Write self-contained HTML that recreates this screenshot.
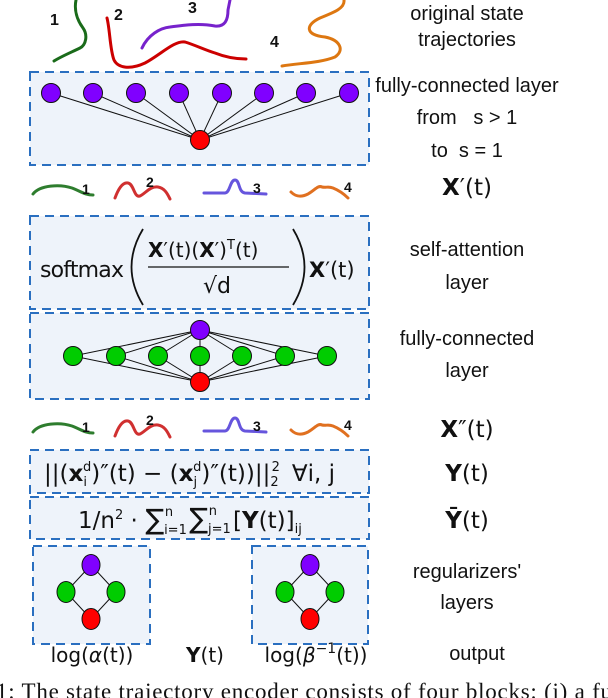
<!DOCTYPE html>
<html><head><meta charset="utf-8"><style>
body{margin:0;background:#fff}
svg{display:block}
text{font-family:"Liberation Sans","DejaVu Sans",sans-serif;fill:#111}
.dv{font-family:"DejaVu Sans",sans-serif}
.lab{font-size:20px;text-anchor:middle;fill:#111}
.box{fill:#eef3fa;stroke:#2a6fc0;stroke-width:2;stroke-dasharray:9,6}
.l{stroke:#111;stroke-width:1}
.p{fill:#8000ff;stroke:#111;stroke-width:1}
.g{fill:#00cc00;stroke:#111;stroke-width:1}
.r{fill:#ff0000;stroke:#111;stroke-width:1}
.m{font-size:23px}
.tr{fill:none;stroke-width:3;stroke-linecap:round}
</style></head><body>
<svg width="608" height="698" viewBox="0 0 608 698" xmlns="http://www.w3.org/2000/svg">
<path class="tr" stroke="#1a6b1a" d="M76 0 C74 10,77 20,83 28 C88 35,86 45,80 48 C72 52,62 56,54 61"/>
<text x="50" y="25" font-size="16" font-weight="bold">1</text>
<path class="tr" stroke="#cc0000" d="M107 18 C110 30,110 50,114 60 C118 68,130 70,145 63 C160 55,175 40,185 42 C195 45,205 50,215 53 C225 57,235 59,246 59"/>
<text x="114" y="20" font-size="16" font-weight="bold">2</text>
<path class="tr" stroke="#7722cc" d="M142 48 C148 35,160 28,170 27 C185 25,200 23,215 26 C225 27,228 20,228 10 L230 0"/>
<text x="188" y="13" font-size="16" font-weight="bold">3</text>
<path class="tr" stroke="#dd7711" d="M282 66 C300 63,320 63,335 57 C345 50,340 40,325 37 C305 35,305 25,320 18 C335 12,345 8,344 0"/>
<text x="270" y="47" font-size="16" font-weight="bold">4</text>
<text class="lab" x="467" y="20">original state</text>
<text class="lab" x="467" y="46">trajectories</text>

<rect class="box" x="30" y="72" width="339" height="93"/>
<g>
<line class="l" x1="51" y1="93" x2="200" y2="140"/><line class="l" x1="93" y1="93" x2="200" y2="140"/>
<line class="l" x1="136" y1="93" x2="200" y2="140"/><line class="l" x1="179" y1="93" x2="200" y2="140"/>
<line class="l" x1="222" y1="93" x2="200" y2="140"/><line class="l" x1="264" y1="93" x2="200" y2="140"/>
<line class="l" x1="306" y1="93" x2="200" y2="140"/><line class="l" x1="349" y1="93" x2="200" y2="140"/>
<circle class="p" cx="51" cy="93" r="9.5"/><circle class="p" cx="93" cy="93" r="9.5"/>
<circle class="p" cx="136" cy="93" r="9.5"/><circle class="p" cx="179" cy="93" r="9.5"/>
<circle class="p" cx="222" cy="93" r="9.5"/><circle class="p" cx="264" cy="93" r="9.5"/>
<circle class="p" cx="306" cy="93" r="9.5"/><circle class="p" cx="349" cy="93" r="9.5"/>
<circle class="r" cx="200" cy="140" r="9.5"/>
</g>
<text class="lab" x="467" y="92">fully-connected layer</text>
<text class="lab" x="467" y="124">from &#160;&#160;s &gt; 1</text>
<text class="lab" x="467" y="157">to &#160;s = 1</text>

<g id="row">
<path class="tr" stroke="#2e7d2e" d="M33 194 C40 185,60 184,72 188 C82 192,85 195,93 195"/>
<path class="tr" stroke="#d03030" d="M115 198 C118 190,122 182,128 183 C134 184,134 198,140 196 C146 193,150 186,158 187 C165 188,168 195,170 199"/>
<path class="tr" stroke="#6655dd" d="M204 193 L225 193 C230 193,230 180,235 180 C240 180,238 192,245 193 L266 194"/>
<path class="tr" stroke="#e07020" d="M291 192 C295 196,300 198,308 194 C315 190,318 185,322 187 C326 188,328 186,333 188 C338 190,344 194,348 198"/>
</g>
<text x="82" y="194" font-size="14" font-weight="bold">1</text>
<text x="146" y="187" font-size="14" font-weight="bold">2</text>
<text x="253" y="193" font-size="14" font-weight="bold">3</text>
<text x="344" y="192" font-size="14" font-weight="bold">4</text>
<text class="lab m dv" x="467" y="195"><tspan font-weight="bold">X</tspan>′(t)</text>

<rect class="box" x="30" y="216" width="339" height="93"/>
<text x="40" y="277" font-size="22" class="dv" textLength="84">softmax</text>
<path d="M143 229 Q120 267 143 305" fill="none" stroke="#111" stroke-width="1.8"/>
<text x="148" y="257" font-size="20" class="dv"><tspan font-weight="bold">X</tspan>′(t)(<tspan font-weight="bold">X</tspan>′)<tspan font-size="13" dy="-8">T</tspan><tspan dy="8">(t)</tspan></text>
<line x1="148" y1="267" x2="289" y2="267" stroke="#111" stroke-width="1.2"/>
<text x="203" y="293" font-size="22" class="dv">√d</text>
<path d="M293 229 Q316 267 293 305" fill="none" stroke="#111" stroke-width="1.8"/>
<text x="309" y="277" font-size="21" class="dv"><tspan font-weight="bold">X</tspan>′(t)</text>
<text class="lab" x="467" y="256">self-attention</text>
<text class="lab" x="467" y="289">layer</text>

<rect class="box" x="30" y="313" width="339" height="86"/>
<g>
<line class="l" x1="73" y1="356" x2="200" y2="330"/><line class="l" x1="116" y1="356" x2="200" y2="330"/>
<line class="l" x1="158" y1="356" x2="200" y2="330"/><line class="l" x1="200" y1="356" x2="200" y2="330"/>
<line class="l" x1="242" y1="356" x2="200" y2="330"/><line class="l" x1="285" y1="356" x2="200" y2="330"/>
<line class="l" x1="327" y1="356" x2="200" y2="330"/>
<line class="l" x1="73" y1="356" x2="200" y2="382"/><line class="l" x1="116" y1="356" x2="200" y2="382"/>
<line class="l" x1="158" y1="356" x2="200" y2="382"/><line class="l" x1="200" y1="356" x2="200" y2="382"/>
<line class="l" x1="242" y1="356" x2="200" y2="382"/><line class="l" x1="285" y1="356" x2="200" y2="382"/>
<line class="l" x1="327" y1="356" x2="200" y2="382"/>
<circle class="g" cx="73" cy="356" r="9.5"/><circle class="g" cx="116" cy="356" r="9.5"/>
<circle class="g" cx="158" cy="356" r="9.5"/><circle class="g" cx="200" cy="356" r="9.5"/>
<circle class="g" cx="242" cy="356" r="9.5"/><circle class="g" cx="285" cy="356" r="9.5"/>
<circle class="g" cx="327" cy="356" r="9.5"/>
<circle class="p" cx="200" cy="330" r="9.5"/><circle class="r" cx="200" cy="382" r="9.5"/>
</g>
<text class="lab" x="467" y="345">fully-connected</text>
<text class="lab" x="467" y="377">layer</text>

<use href="#row" transform="translate(0,238)"/>
<text x="82" y="432" font-size="14" font-weight="bold">1</text>
<text x="146" y="425" font-size="14" font-weight="bold">2</text>
<text x="253" y="431" font-size="14" font-weight="bold">3</text>
<text x="344" y="430" font-size="14" font-weight="bold">4</text>
<text class="lab m dv" x="467" y="437"><tspan font-weight="bold">X</tspan>″(t)</text>

<rect class="box" x="30" y="450" width="339" height="43"/>
<text x="44" y="481" font-size="23" class="dv">||(<tspan font-weight="bold">x</tspan><tspan font-size="13" dy="5">i</tspan><tspan font-size="13" dx="-4" dy="-15">d</tspan><tspan dy="10">)″(t) − (</tspan><tspan font-weight="bold">x</tspan><tspan font-size="13" dy="5">j</tspan><tspan font-size="13" dx="-4" dy="-15">d</tspan><tspan dy="10">)″(t))||</tspan><tspan font-size="13" dy="5">2</tspan><tspan font-size="13" dx="-7" dy="-15">2</tspan><tspan dy="10" dx="12">∀i, j</tspan></text>
<text class="lab m dv" x="467" y="481"><tspan font-weight="bold">Y</tspan>(t)</text>

<rect class="box" x="30" y="497" width="339" height="42"/>
<text x="78" y="528" font-size="23" class="dv">1/n<tspan font-size="13" dy="-9">2</tspan><tspan dy="9"> · </tspan><tspan font-size="28" dy="1">∑</tspan><tspan font-size="13" dy="5">i=1</tspan><tspan font-size="13" dx="-22" dy="-18">n</tspan><tspan dx="16" dy="12" font-size="28">∑</tspan><tspan font-size="13" dy="5">j=1</tspan><tspan font-size="13" dx="-22" dy="-18">n</tspan><tspan dx="16" dy="13">[</tspan><tspan font-weight="bold">Y</tspan>(t)]<tspan font-size="13" dy="5">ij</tspan></text>
<text class="lab m dv" x="467" y="528"><tspan font-weight="bold">Ȳ</tspan>(t)</text>

<rect class="box" x="33" y="546" width="117" height="98"/>
<g>
<line class="l" x1="91" y1="565" x2="66" y2="592"/><line class="l" x1="91" y1="565" x2="116" y2="592"/>
<line class="l" x1="66" y1="592" x2="91" y2="619"/><line class="l" x1="116" y1="592" x2="91" y2="619"/>
<ellipse class="p" cx="91" cy="565" rx="9" ry="10.5"/><ellipse class="g" cx="66" cy="592" rx="9" ry="10.5"/>
<ellipse class="g" cx="116" cy="592" rx="9" ry="10.5"/><ellipse class="r" cx="91" cy="619" rx="9" ry="10.5"/>
</g>
<rect class="box" x="252" y="546" width="116" height="98"/>
<g transform="translate(219,0)">
<line class="l" x1="91" y1="565" x2="66" y2="592"/><line class="l" x1="91" y1="565" x2="116" y2="592"/>
<line class="l" x1="66" y1="592" x2="91" y2="619"/><line class="l" x1="116" y1="592" x2="91" y2="619"/>
<ellipse class="p" cx="91" cy="565" rx="9" ry="10.5"/><ellipse class="g" cx="66" cy="592" rx="9" ry="10.5"/>
<ellipse class="g" cx="116" cy="592" rx="9" ry="10.5"/><ellipse class="r" cx="91" cy="619" rx="9" ry="10.5"/>
</g>
<text class="lab" x="467" y="578">regularizers'</text>
<text class="lab" x="467" y="609">layers</text>

<text class="lab dv" font-size="24" x="92" y="662">log(<tspan font-style="italic">α</tspan>(t))</text>
<text class="lab dv" font-size="24" x="205" y="662"><tspan font-weight="bold">Y</tspan>(t)</text>
<text class="lab dv" font-size="24" x="316" y="662">log(<tspan font-style="italic">β</tspan><tspan font-size="14" dy="-9">−1</tspan><tspan dy="9">(t))</tspan></text>
<text class="lab" x="477" y="660">output</text>

<text x="-4" y="699" font-size="23" style="font-family:'Liberation Serif',serif" textLength="616" lengthAdjust="spacing">1: The state trajectory encoder consists of four blocks: (i) a fu</text>
</svg>
</body></html>
